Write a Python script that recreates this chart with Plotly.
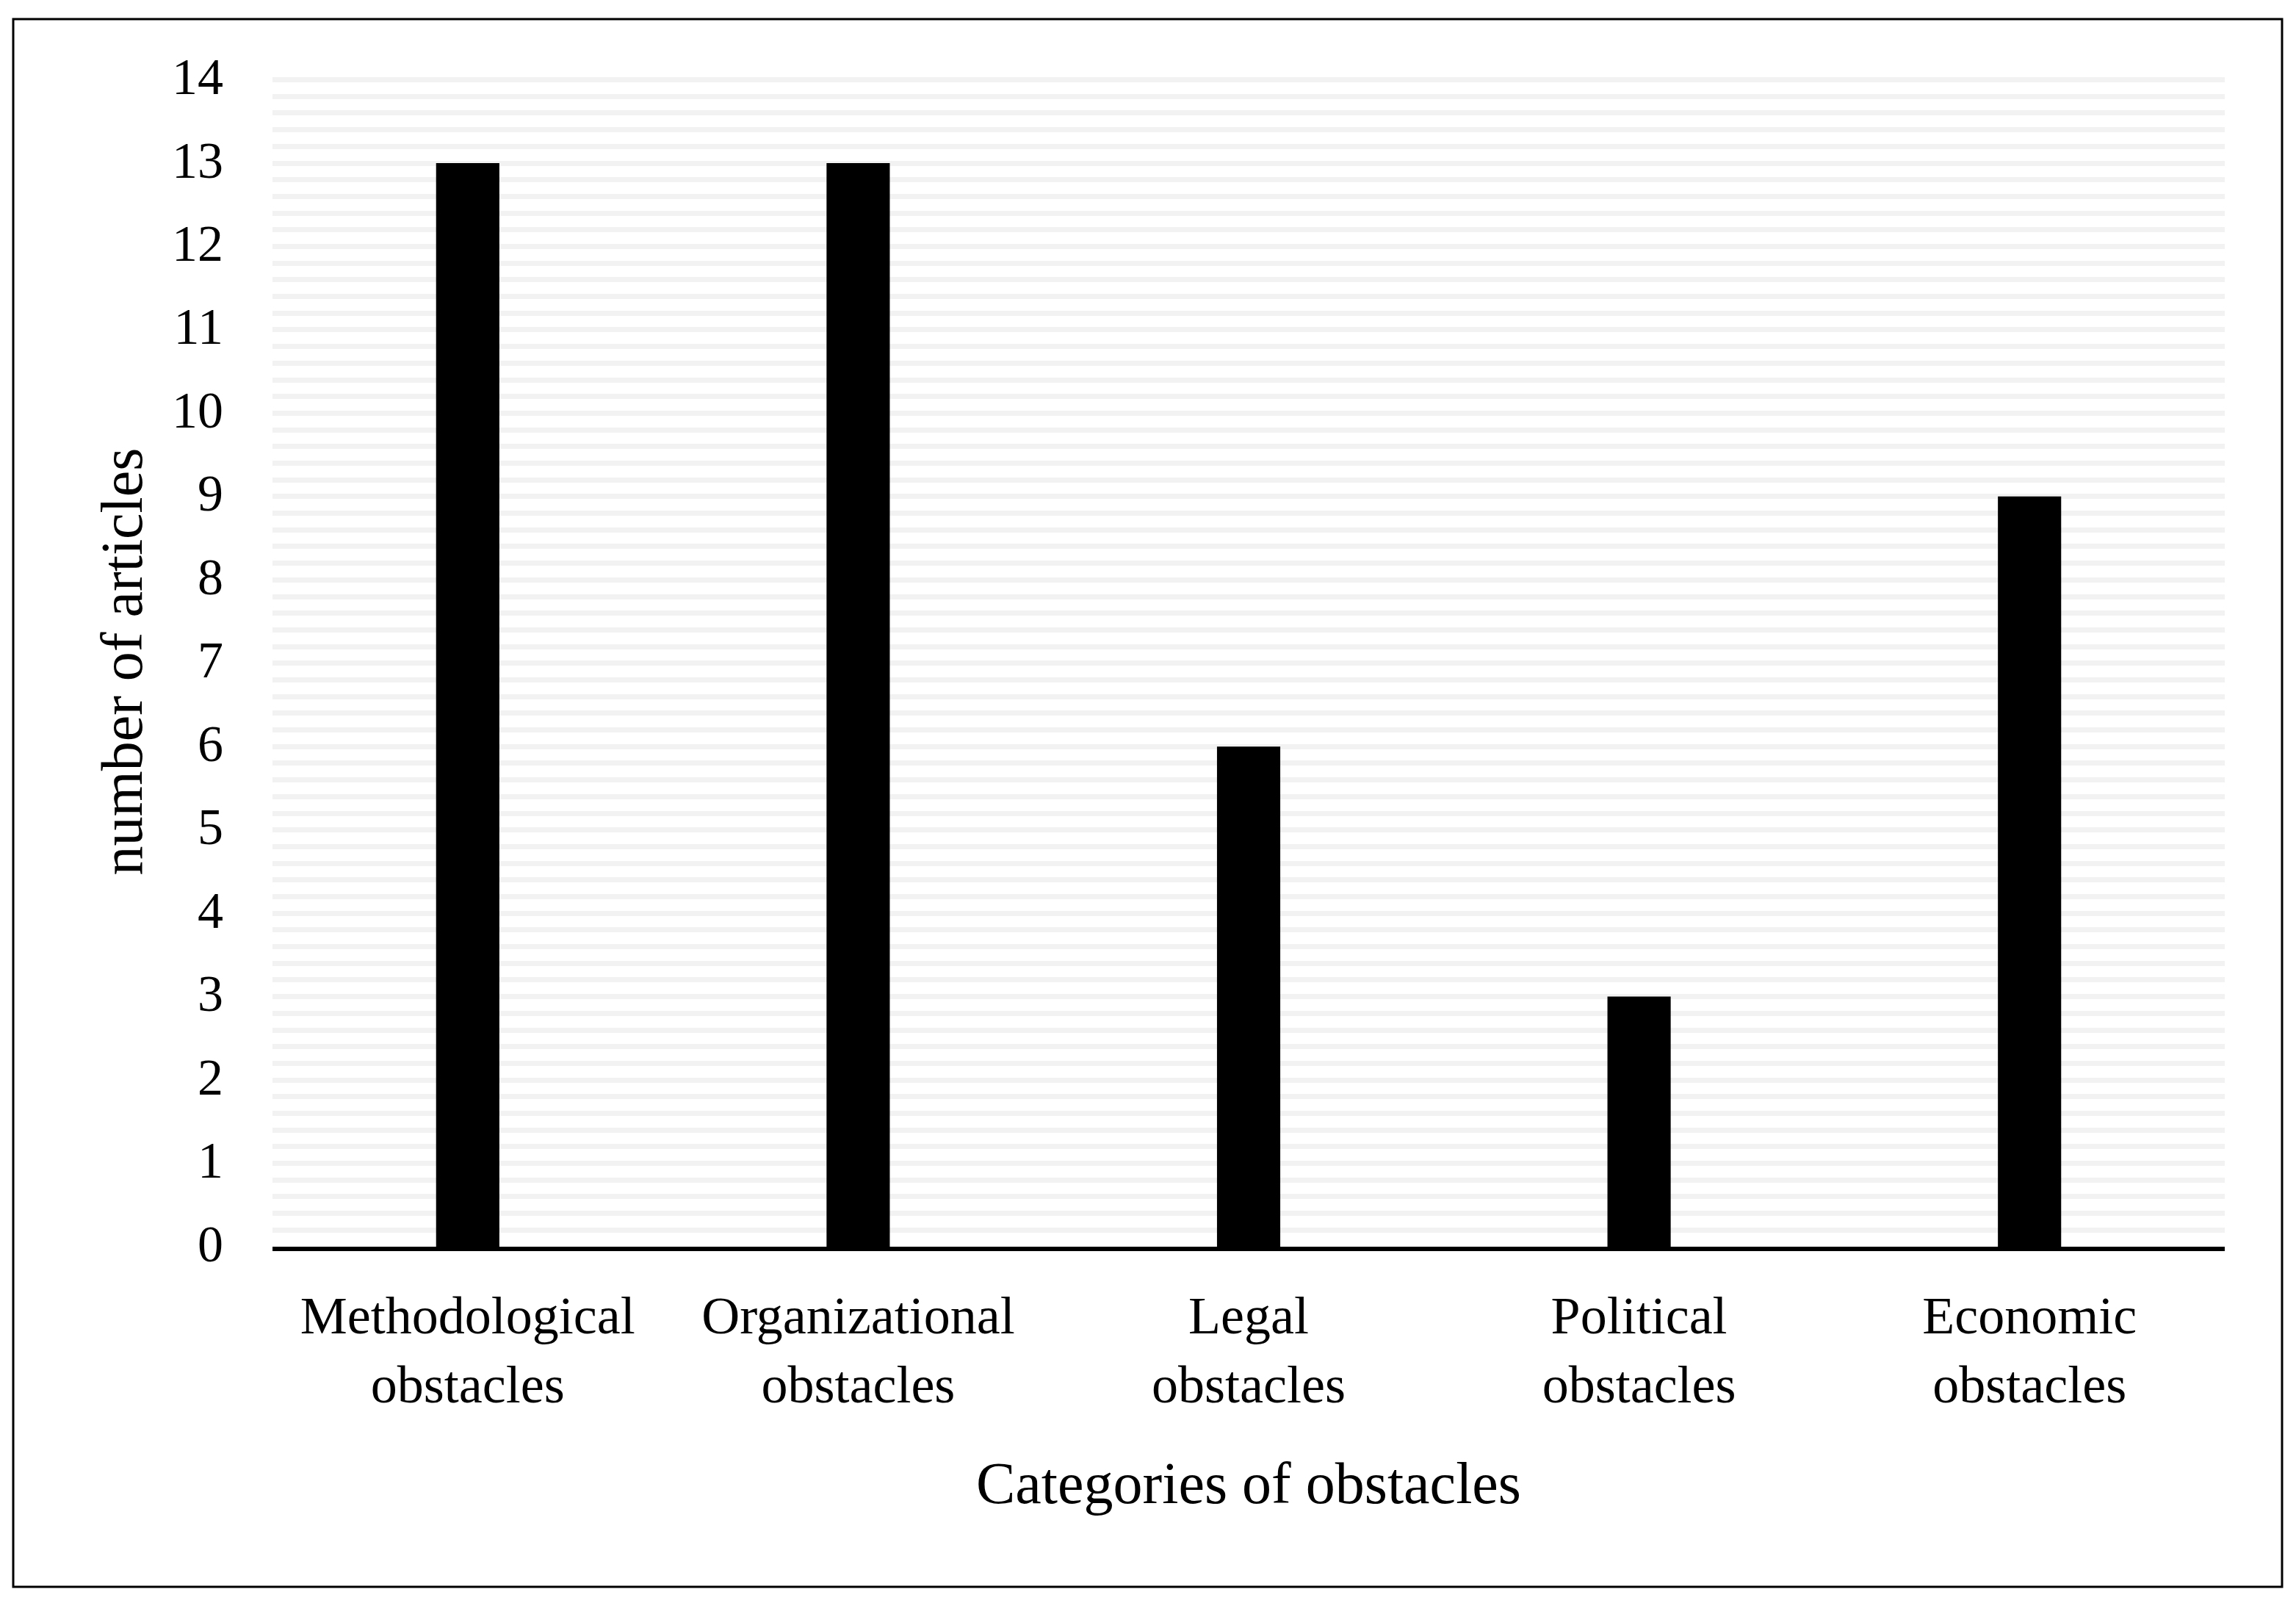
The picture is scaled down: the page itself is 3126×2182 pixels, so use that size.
import plotly.graph_objects as go

categories = ["Methodological<br>obstacles", "Organizational<br>obstacles", "Legal<br>obstacles",
              "Political<br>obstacles", "Economic<br>obstacles"]
values = [13, 13, 6, 3, 9]
y_ticks = list(range(0, 15))
y_max = 14.04

FONT = "Liberation Serif"
W, H = 3110, 2166
L, R = 363, 89
y0_px, y14_px = 1689, 101  # figure pixel rows of value 0 and 14
unit = (y0_px - y14_px) / 14
T = int(round(y14_px - (y_max - 14) * unit))
B = H - y0_px
pw, ph = W - L - R, H - T - B

fig = go.Figure(go.Bar(x=categories, y=values, marker=dict(color="black", line=dict(width=0))))

def px_x(fx):
    return (fx - L) / pw

def px_y(fy):
    return (H - B - fy) / ph

fig.add_shape(type="rect", xref="paper", yref="paper",
              x0=px_x(10), x1=px_x(3099), y0=px_y(2152), y1=px_y(18),
              line=dict(color="black", width=3), layer="above")

fig.update_layout(
    width=W, height=H,
    margin=dict(l=L, r=R, t=T, b=B, pad=0),
    paper_bgcolor="white", plot_bgcolor="white",
    bargap=0.838,
    showlegend=False,
    font=dict(family=FONT, color="black"),
    xaxis=dict(
        showline=True, linecolor="black", linewidth=6,
        showgrid=False, ticks="", tickfont=dict(size=72, family=FONT, color="black"),
        ticklabelstandoff=26,
        title=dict(text="Categories of obstacles", font=dict(size=80, family=FONT, color="black"), standoff=68),
    ),
    yaxis=dict(
        range=[0, y_max], tickvals=y_ticks, ticktext=[str(v) for v in y_ticks],
        showline=False, zeroline=False,
        showgrid=True, gridcolor="#f2f2f2", gridwidth=7,
        minor=dict(dtick=0.2, showgrid=True, gridcolor="#f2f2f2", gridwidth=7),
        ticks="", tickfont=dict(size=70, family=FONT, color="black"),
        ticklabelstandoff=66, ticklabelshift=-5,
        title=dict(text="number of articles", font=dict(size=80, family=FONT, color="black"), standoff=14),
    ),
)

fig.write_html("out.html")
